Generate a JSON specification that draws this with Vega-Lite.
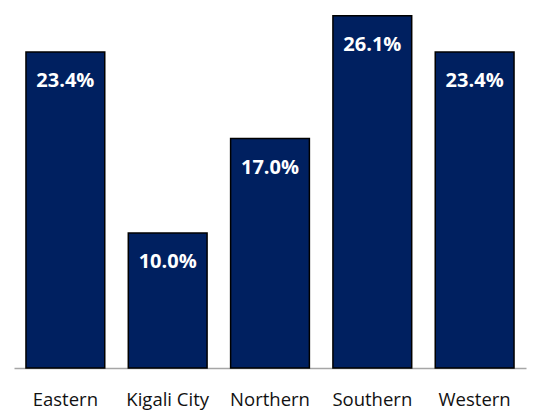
{
  "$schema": "https://vega.github.io/schema/vega-lite/v6.json",
  "width": 512,
  "height": 368,
  "autosize": {"type": "none"},
  "padding": {"left": 14, "top": 0, "right": 24, "bottom": 44},
  "background": "white",
  "config": {"view": {"stroke": null}},
  "data": {"values": [
    {"region": "Eastern", "value": 23.4, "label": "23.4%"},
    {"region": "Kigali City", "value": 10.0, "label": "10.0%"},
    {"region": "Northern", "value": 17.0, "label": "17.0%"},
    {"region": "Southern", "value": 26.1, "label": "26.1%"},
    {"region": "Western", "value": 23.4, "label": "23.4%"}
  ]},
  "encoding": {
    "x": {
      "field": "region", "type": "nominal", "sort": null,
      "scale": {"paddingInner": 0.23, "paddingOuter": 0.117},
      "axis": {
        "title": null, "labelAngle": 0, "ticks": false, "labelPadding": 22,
        "labelFont": "Open Sans", "labelFontSize": 18.5, "labelColor": "#111111",
        "domainColor": "#a6a6a6", "domainWidth": 1.5, "grid": false
      }
    },
    "y": {
      "field": "value", "type": "quantitative",
      "scale": {"domain": [0, 27.26], "nice": false, "zero": true},
      "axis": null
    }
  },
  "layer": [
    {"mark": {"type": "bar", "color": "#002060", "stroke": "#000000", "strokeWidth": 1.5}},
    {"mark": {"type": "text", "color": "white", "font": "Open Sans", "fontWeight": "bold", "fontSize": 20, "baseline": "middle", "dy": 29},
     "encoding": {"text": {"field": "label"}}}
  ]
}
